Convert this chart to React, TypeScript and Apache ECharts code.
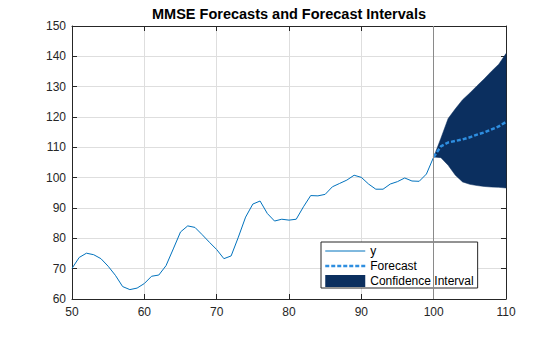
import React, { useEffect, useRef } from "react";
import * as echarts from "echarts";

// History: x = 50 .. 100
const histStartX = 50;
const histY = [
  70.1, 73.7, 75.1, 74.6, 73.3, 70.8, 67.8, 64.1, 63.1, 63.6,
  65.1, 67.5, 67.9, 71.0, 76.5, 82.1, 84.1, 83.6, 81.2, 78.7,
  76.3, 73.3, 74.2, 80.4, 87.0, 91.3, 92.3, 88.2, 85.7, 86.3,
  86.0, 86.3, 90.4, 94.1, 94.0, 94.5, 97.0, 98.1, 99.2, 100.8,
  100.1, 97.9, 96.2, 96.2, 97.9, 98.7, 99.9, 98.9, 98.8, 101.2,
  106.8,
];

// Forecast horizon: x = 100 .. 110
const fcStartX = 100;
const forecastY = [106.8, 110.3, 111.6, 112.1, 112.6, 113.3, 114.2, 114.9, 115.9, 116.9, 118.4];
const upperY = [106.8, 113.0, 119.5, 122.7, 125.7, 127.9, 130.3, 132.6, 135.1, 137.4, 140.9];
const lowerY = [106.8, 106.6, 104.1, 100.8, 98.6, 97.8, 97.4, 97.1, 96.9, 96.8, 96.6];

const xMin = 50, xMax = 110, xStep = 10;
const yMin = 60, yMax = 150, yStep = 10;
const splitX = 100;

const titleText = "MMSE Forecasts and Forecast Intervals";
const legendNames = ["y", "Forecast", "Confidence Interval"];

const FONT = "'Liberation Sans', Arial, Helvetica, sans-serif";
const AXIS = "#262626";
const GRID = "#dedede";
const BLUE = "#0072BD";
const FC = "#2e8ee0";
const NAVY = "#0b2f5f";
const FC_DASH = [4, 2];

export default function App() {
  const ref = useRef<HTMLDivElement>(null);
  useEffect(() => {
    if (!ref.current) return;
    const chart = echarts.init(ref.current, undefined, { renderer: "svg" });
    const hist = histY.map((v, i) => [histStartX + i, v]);
    const fc = forecastY.map((v, i) => [fcStartX + i, v]);
    const bandData = upperY.map((v, i) => [fcStartX + i, lowerY[i], v]);

    const axisCommon = {
      type: "value" as const,
      axisLine: { show: true, onZero: false, lineStyle: { color: AXIS, width: 1 } },
      axisTick: { show: true, inside: true, length: 5, lineStyle: { color: AXIS } },
    };

    chart.setOption({
      animation: false,
      backgroundColor: "#fff",
      textStyle: { fontFamily: FONT },
      title: {
        text: titleText,
        left: 289,
        textAlign: "center",
        top: 6,
        padding: 0,
        textStyle: { fontSize: 14.5, fontWeight: "bold", color: "#000", fontFamily: FONT },
      },
      grid: { left: 72, right: 54, top: 26, bottom: 38, containLabel: false },
      xAxis: [
        {
          ...axisCommon,
          position: "bottom",
          min: xMin, max: xMax, interval: xStep,
          axisLabel: { color: AXIS, fontSize: 12, margin: 7, fontFamily: FONT },
          splitLine: { show: true, lineStyle: { color: GRID, width: 1 } },
        },
        {
          ...axisCommon,
          position: "top",
          min: xMin, max: xMax, interval: xStep,
          axisLabel: { show: false },
          splitLine: { show: false },
        },
      ],
      yAxis: [
        {
          ...axisCommon,
          position: "left",
          min: yMin, max: yMax, interval: yStep,
          axisLabel: { color: AXIS, fontSize: 12, margin: 6, fontFamily: FONT },
          splitLine: { show: true, lineStyle: { color: GRID, width: 1 } },
        },
        {
          ...axisCommon,
          position: "right",
          min: yMin, max: yMax, interval: yStep,
          axisLabel: { show: false },
          splitLine: { show: false },
        },
      ],
      legend: {
        orient: "vertical",
        left: 321,
        top: 242,
        padding: [3, 4, 1, 3],
        itemWidth: 40,
        itemHeight: 12,
        itemGap: 3,
        borderColor: "#262626",
        borderWidth: 1,
        borderRadius: 0,
        backgroundColor: "#fff",
        textStyle: { fontSize: 12, color: "#000", fontFamily: FONT },
        data: [
          { name: legendNames[0], itemStyle: { opacity: 0 }, lineStyle: { width: 1, color: BLUE } },
          { name: legendNames[1], itemStyle: { opacity: 0 }, lineStyle: { width: 2.5, color: FC, type: FC_DASH } },
          { name: legendNames[2], icon: "rect", itemStyle: { color: NAVY, borderWidth: 0 } },
        ],
      },
      series: [
        {
          name: legendNames[2],
          type: "custom",
          data: bandData,
          encode: { x: 0, y: [1, 2] },
          color: NAVY,
          z: 2,
          silent: true,
          renderItem: (params: any, api: any) => {
            if (params.dataIndex !== 0) return null;
            const top = bandData.map((d) => api.coord([d[0], d[2]]));
            const bottom = bandData.map((d) => api.coord([d[0], d[1]])).reverse();
            return {
              type: "polygon",
              shape: { points: top.concat(bottom) },
              style: { fill: NAVY, stroke: NAVY, lineWidth: 0.5 },
            };
          },
        },
        {
          name: legendNames[0],
          type: "line",
          data: hist,
          symbol: "none",
          showSymbol: false,
          color: BLUE,
          lineStyle: { color: BLUE, width: 1 },
          z: 3,
          markLine: {
            silent: true,
            symbol: ["none", "none"],
            label: { show: false },
            lineStyle: { color: "#8a8a8a", type: "solid", width: 1 },
            data: [{ xAxis: splitX }],
          },
        },
        {
          name: legendNames[1],
          type: "line",
          data: fc,
          symbol: "none",
          showSymbol: false,
          color: FC,
          lineStyle: { color: FC, width: 2.5, type: FC_DASH },
          z: 4,
        },
      ],
    });
    return () => chart.dispose();
  }, []);
  return (
    <div
      ref={ref}
      style={{ position: "fixed", left: 0, top: 0, width: 560, height: 337 }}
    />
  );
}
